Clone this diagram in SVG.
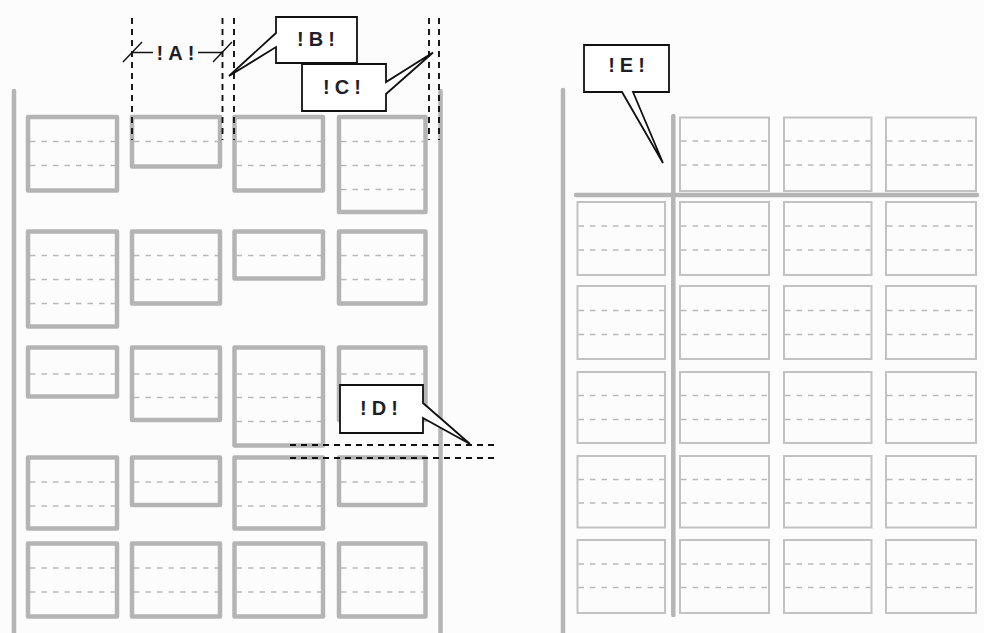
<svg xmlns="http://www.w3.org/2000/svg" width="984" height="633" viewBox="0 0 984 633">
<style>
.bg{fill:#fcfcfc}
.bar{stroke:#b5b5b5;stroke-width:4.5;stroke-linecap:round;fill:none}
.bx{fill:none;stroke:#b4b4b4;stroke-width:4.5;stroke-linejoin:round}
.tb{fill:none;stroke:#c2c2c2;stroke-width:2}
.dl{stroke:#b9b9b9;stroke-width:1.4;stroke-dasharray:5.5 6;fill:none}
.dim{stroke:#111;stroke-width:1.9;stroke-dasharray:6 5;fill:none}
.ln{stroke:#111;stroke-width:1.4;fill:none}
.co{fill:#fff;stroke:#111;stroke-width:1.8;stroke-linejoin:miter}
.t{font-family:"Liberation Sans",Arial,sans-serif;font-weight:bold;font-size:20px;letter-spacing:5px;fill:#1e1e2a;text-anchor:middle}
</style>
<rect class="bg" x="0" y="0" width="984" height="633"/>

<g id="left-panel">
<line class="bar" x1="14" y1="91" x2="14" y2="640"/>
<line class="bar" x1="440.5" y1="91" x2="440.5" y2="640"/>
</g>

<g id="left-row1">
<g id="L11"><rect class="bx" x="28" y="117" width="89" height="73.5"/><path class="dl" d="M30 141.5H115M30 165.5H115"/></g>
<g id="L12"><rect class="bx" x="132" y="117" width="88" height="49.5"/><path class="dl" d="M134 141.5H218"/></g>
<g id="L13"><rect class="bx" x="234.5" y="117" width="88.5" height="73.5"/><path class="dl" d="M236.5 141.5H321M236.5 165.5H321"/></g>
<g id="L14"><rect class="bx" x="339" y="117" width="86.5" height="95"/><path class="dl" d="M341 141.5H423.5M341 165.5H423.5M341 189.5H423.5"/></g>
</g>
<g id="left-row2">
<g id="L21"><rect class="bx" x="28" y="231.5" width="89" height="95"/><path class="dl" d="M30 255.5H115M30 279.5H115M30 303.5H115"/></g>
<g id="L22"><rect class="bx" x="132" y="231.5" width="88" height="72"/><path class="dl" d="M134 255.5H218M134 279.5H218"/></g>
<g id="L23"><rect class="bx" x="234.5" y="231.5" width="88.5" height="47"/><path class="dl" d="M236.5 255.5H321"/></g>
<g id="L24"><rect class="bx" x="339" y="231.5" width="86.5" height="72"/><path class="dl" d="M341 255.5H423.5M341 279.5H423.5"/></g>
</g>
<g id="left-row3">
<g id="L31"><rect class="bx" x="28" y="347.5" width="89" height="49"/><path class="dl" d="M30 374H115"/></g>
<g id="L32"><rect class="bx" x="132" y="347.5" width="88" height="72.5"/><path class="dl" d="M134 374H218M134 397.5H218"/></g>
<g id="L33"><rect class="bx" x="234.5" y="347.5" width="88.5" height="98"/><path class="dl" d="M236.5 374H321M236.5 397.5H321M236.5 421.5H321"/></g>
<g id="L34"><rect class="bx" x="339" y="347.5" width="86.5" height="72.5"/><path class="dl" d="M341 374H423.5M341 397.5H423.5"/></g>
</g>
<g id="left-row4">
<g id="L41"><rect class="bx" x="28" y="457.5" width="89" height="71"/><path class="dl" d="M30 482H115M30 506H115"/></g>
<g id="L42"><rect class="bx" x="132" y="457.5" width="88" height="47.5"/><path class="dl" d="M134 482H218"/></g>
<g id="L43"><rect class="bx" x="234.5" y="457.5" width="88.5" height="71"/><path class="dl" d="M236.5 482H321M236.5 506H321"/></g>
<g id="L44"><rect class="bx" x="339" y="457.5" width="86.5" height="47.5"/><path class="dl" d="M341 482H423.5"/></g>
</g>
<g id="left-row5">
<g id="L51"><rect class="bx" x="28" y="543.5" width="89" height="73"/><path class="dl" d="M30 568H115M30 592H115"/></g>
<g id="L52"><rect class="bx" x="132" y="543.5" width="88" height="73"/><path class="dl" d="M134 568H218M134 592H218"/></g>
<g id="L53"><rect class="bx" x="234.5" y="543.5" width="88.5" height="73"/><path class="dl" d="M236.5 568H321M236.5 592H321"/></g>
<g id="L54"><rect class="bx" x="339" y="543.5" width="86.5" height="73"/><path class="dl" d="M341 568H423.5M341 592H423.5"/></g>
</g>

<g id="right-panel">
<line class="bar" x1="563" y1="90" x2="563" y2="640"/>
<line class="bar" x1="576" y1="195" x2="977" y2="195" stroke-width="5"/>
<line class="bar" x1="673.3" y1="116" x2="673.3" y2="615" stroke-width="5"/>
</g>
<g id="right-top">
<g id="R01"><rect class="tb" x="680" y="117.5" width="89" height="73.5"/><path class="dl" d="M681 141H768M681 165H768"/></g>
<g id="R02"><rect class="tb" x="784" y="117.5" width="87.5" height="73.5"/><path class="dl" d="M785 141H870.5M785 165H870.5"/></g>
<g id="R03"><rect class="tb" x="886" y="117.5" width="90" height="73.5"/><path class="dl" d="M887 141H975M887 165H975"/></g>
</g>
<g id="right-grid">
<g id="R11"><rect class="tb" x="577.5" y="202" width="87.5" height="73"/><path class="dl" d="M578.5 226H664M578.5 250H664"/></g>
<g id="R12"><rect class="tb" x="680" y="202" width="89" height="73"/><path class="dl" d="M681 226H768M681 250H768"/></g>
<g id="R13"><rect class="tb" x="784" y="202" width="87.5" height="73"/><path class="dl" d="M785 226H870.5M785 250H870.5"/></g>
<g id="R14"><rect class="tb" x="886" y="202" width="90" height="73"/><path class="dl" d="M887 226H975M887 250H975"/></g>
<g id="R21"><rect class="tb" x="577.5" y="286" width="87.5" height="73"/><path class="dl" d="M578.5 310.5H664M578.5 334.5H664"/></g>
<g id="R22"><rect class="tb" x="680" y="286" width="89" height="73"/><path class="dl" d="M681 310.5H768M681 334.5H768"/></g>
<g id="R23"><rect class="tb" x="784" y="286" width="87.5" height="73"/><path class="dl" d="M785 310.5H870.5M785 334.5H870.5"/></g>
<g id="R24"><rect class="tb" x="886" y="286" width="90" height="73"/><path class="dl" d="M887 310.5H975M887 334.5H975"/></g>
<g id="R31"><rect class="tb" x="577.5" y="372" width="87.5" height="71"/><path class="dl" d="M578.5 395.5H664M578.5 419.5H664"/></g>
<g id="R32"><rect class="tb" x="680" y="372" width="89" height="71"/><path class="dl" d="M681 395.5H768M681 419.5H768"/></g>
<g id="R33"><rect class="tb" x="784" y="372" width="87.5" height="71"/><path class="dl" d="M785 395.5H870.5M785 419.5H870.5"/></g>
<g id="R34"><rect class="tb" x="886" y="372" width="90" height="71"/><path class="dl" d="M887 395.5H975M887 419.5H975"/></g>
<g id="R41"><rect class="tb" x="577.5" y="456" width="87.5" height="71.5"/><path class="dl" d="M578.5 479.5H664M578.5 503H664"/></g>
<g id="R42"><rect class="tb" x="680" y="456" width="89" height="71.5"/><path class="dl" d="M681 479.5H768M681 503H768"/></g>
<g id="R43"><rect class="tb" x="784" y="456" width="87.5" height="71.5"/><path class="dl" d="M785 479.5H870.5M785 503H870.5"/></g>
<g id="R44"><rect class="tb" x="886" y="456" width="90" height="71.5"/><path class="dl" d="M887 479.5H975M887 503H975"/></g>
<g id="R51"><rect class="tb" x="577.5" y="540" width="87.5" height="73"/><path class="dl" d="M578.5 564H664M578.5 587.5H664"/></g>
<g id="R52"><rect class="tb" x="680" y="540" width="89" height="73"/><path class="dl" d="M681 564H768M681 587.5H768"/></g>
<g id="R53"><rect class="tb" x="784" y="540" width="87.5" height="73"/><path class="dl" d="M785 564H870.5M785 587.5H870.5"/></g>
<g id="R54"><rect class="tb" x="886" y="540" width="90" height="73"/><path class="dl" d="M887 564H975M887 587.5H975"/></g>
</g>

<g id="connectors">
<path class="dim" d="M132 18V140M222.5 18V140M234 18V140M429 18V140M439 18V140"/>
<path class="ln" d="M132 52.5H153M198 52.5H222.5M123 62L142 42M213 62L232 42"/>
<path class="dim" d="M290 445H497M290 458H497"/>
</g>

<g id="dim-A"><text class="t" x="178" y="59.5">!A!</text></g>
<g id="callout-B"><path class="co" d="M276 33V17H357V63H276V47L229 76Z"/><text class="t" x="318.5" y="46">!B!</text></g>
<g id="callout-C"><path class="co" d="M386 82V64H302V111H386V94L433 52.5Z"/><text class="t" x="344.5" y="93.5">!C!</text></g>
<g id="callout-D"><path class="co" d="M423 403V385H340V433H423V418L470 444Z"/><text class="t" x="381.5" y="414.5">!D!</text></g>
<g id="callout-E"><path class="co" d="M622 92H584V45H669V92H633L663 163Z"/><text class="t" x="629" y="71.5">!E!</text></g>
</svg>
